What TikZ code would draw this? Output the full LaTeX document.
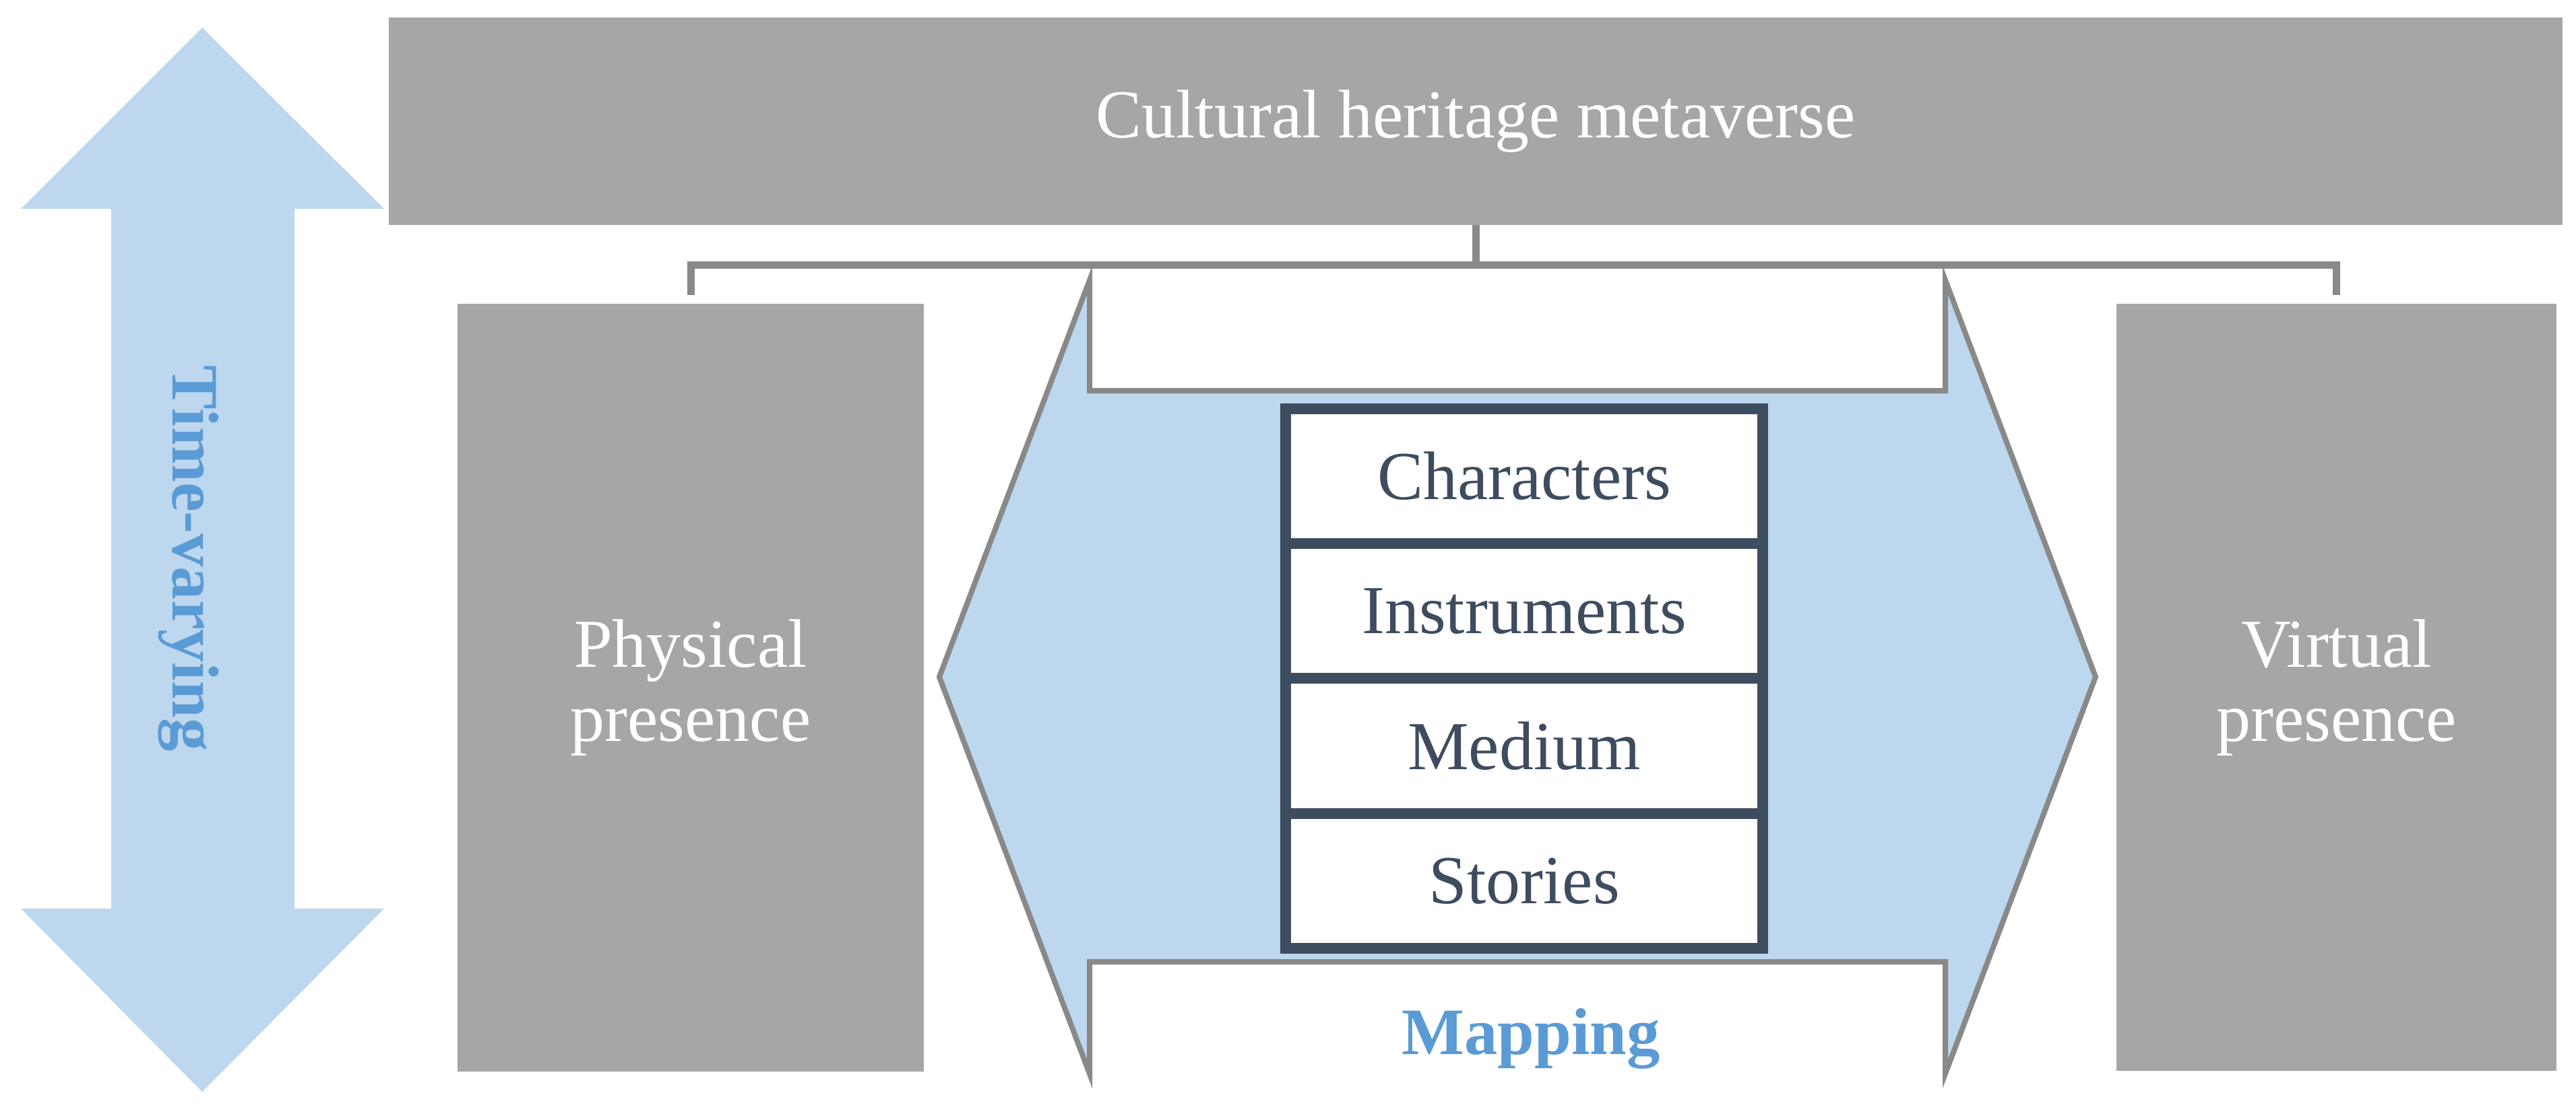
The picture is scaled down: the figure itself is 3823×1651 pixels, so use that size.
\documentclass[tikz,border=0pt]{standalone}
\usepackage{fontspec}
\setmainfont{Liberation Serif}
\usepackage{tikz}

\definecolor{boxgray}{HTML}{A6A6A6}
\definecolor{linegray}{HTML}{898989}
\definecolor{paleblue}{HTML}{BDD7EE}
\definecolor{textblue}{HTML}{5B9BD5}
\definecolor{slate}{HTML}{3E4C5F}

\tikzset{
    greybox/.style={fill=boxgray,text=white,inner sep=0pt,outer sep=0pt,align=center},
    layerbox/.style={draw=slate,line width=0.16cm,fill=white,text=slate,minimum width=7.08cm,minimum height=2.0025cm,inner sep=0pt,outer sep=0pt},
    bracket/.style={draw=linegray,line width=0.11cm},
    bluelabel/.style={text=textblue,font=\fontsize{28}{31.5}\selectfont\bfseries},
}

\begin{document}
\begin{tikzpicture}[x=0.01cm,y=-0.01cm,font=\fontsize{29}{31.3}\selectfont]
    \useasboundingbox (0,0) rectangle (3823,1651);

    \fill[paleblue] (300,41) -- (570,310) -- (437,310) -- (437,1349) -- (570,1349) -- (300,1621) -- (31,1349) -- (165,1349) -- (165,310) -- (31,310) -- cycle;
    \node at (280,829) [rotate=-90,bluelabel] (time) {Time-varying};

    \node at (2190,180) [greybox,minimum width=32.24cm,minimum height=3.08cm] (meta) {Cultural heritage metaverse};
    \node at (1025,1021) [greybox,minimum width=6.92cm,minimum height=11.40cm] (phys) {Physical\\presence};
    \node at (3467.5,1020.5) [greybox,minimum width=6.53cm,minimum height=11.39cm] (virt) {Virtual\\presence};

    \coordinate (fork) at (2190,393);
    \draw[bracket] (meta.south) -- (fork);
    \draw[bracket,shorten >=0.13cm] (fork) -| (phys.north);
    \draw[bracket,shorten >=0.13cm] (fork) -| (virt.north);

    \draw[fill=paleblue,draw=linegray,line width=0.08cm] (1617,416) -- (1394,1005) -- (1617,1594) -- (1617,1428) -- (2887,1428) -- (2887,1594) -- (3110,1005) -- (2887,416) -- (2887,580) -- (1617,580) -- cycle;
    \node at (2272,1565) [anchor=base,bluelabel] (map) {Mapping};

    \node at (2262,707) [layerbox] (chars) {Characters};
    \node at (2262,907.25) [layerbox] (instr) {Instruments};
    \node at (2262,1107.5) [layerbox] (medium) {Medium};
    \node at (2262,1307.75) [layerbox] (stories) {Stories};
\end{tikzpicture}
\end{document}
